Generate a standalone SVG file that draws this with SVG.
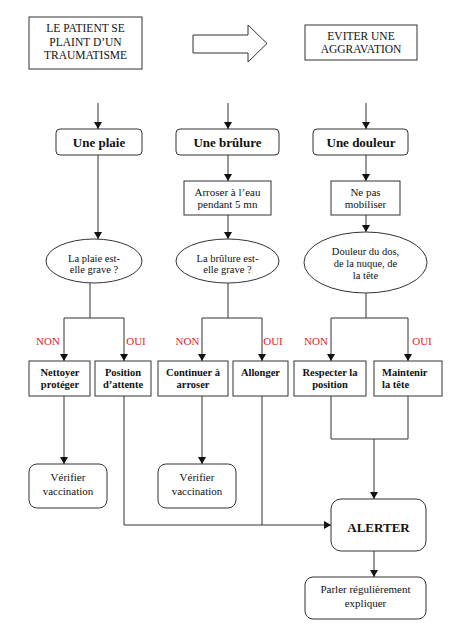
<svg xmlns="http://www.w3.org/2000/svg" width="470" height="634" viewBox="0 0 470 634">
<style>
.b{fill:#fff;stroke:#333;stroke-width:1}
.l{fill:none;stroke:#333;stroke-width:1}
.t{font-family:"Liberation Serif","Times New Roman",serif;fill:#111;text-anchor:middle}
.s{font-size:11.5px}
.m{font-size:10.5px}
.v{font-size:11px}
.h{font-size:13px;font-weight:bold}
.k{font-size:10.5px;font-weight:bold}
.r{font-family:"Liberation Serif","Times New Roman",serif;font-size:11px;fill:#e8231f;text-anchor:middle}
</style>
<defs>
<marker id="ar" markerUnits="userSpaceOnUse" markerWidth="8" markerHeight="9" refX="7" refY="4" orient="auto">
<path d="M0,0 L7,4 L0,8 Z" fill="#111"/>
</marker>
</defs>
<g id="connectors">
<polygon class="b" points="193,35 248,35 248,25 267,43.5 248,62 248,53 193,53"/>
<path class="l" d="M98,103 V129" marker-end="url(#ar)"/>
<path class="l" d="M228,103 V129" marker-end="url(#ar)"/>
<path class="l" d="M366,103 V129" marker-end="url(#ar)"/>
<path class="l" d="M98,155 V239" marker-end="url(#ar)"/>
<path class="l" d="M228,155 V181" marker-end="url(#ar)"/>
<path class="l" d="M228,215 V239" marker-end="url(#ar)"/>
<path class="l" d="M366,155 V181" marker-end="url(#ar)"/>
<path class="l" d="M366,215 V232" marker-end="url(#ar)"/>
<path class="l" d="M90,283 V318 M64,318 H124"/>
<path class="l" d="M64,318 V361" marker-end="url(#ar)"/>
<path class="l" d="M124,318 V361" marker-end="url(#ar)"/>
<path class="l" d="M228,283 V318 M202,318 H262"/>
<path class="l" d="M202,318 V361" marker-end="url(#ar)"/>
<path class="l" d="M262,318 V361" marker-end="url(#ar)"/>
<path class="l" d="M366,293 V318 M331,318 H408"/>
<path class="l" d="M331,318 V361" marker-end="url(#ar)"/>
<path class="l" d="M408,318 V361" marker-end="url(#ar)"/>
<path class="l" d="M64,396 V464" marker-end="url(#ar)"/>
<path class="l" d="M202,396 V464" marker-end="url(#ar)"/>
<path class="l" d="M262,396 V525"/>
<path class="l" d="M124,396 V525 H331" marker-end="url(#ar)"/>
<path class="l" d="M331,396 V439 H408 V396"/>
<path class="l" d="M374,439 V499" marker-end="url(#ar)"/>
<path class="l" d="M374,551 V577" marker-end="url(#ar)"/>
<text class="r" x="48" y="345">NON</text>
<text class="r" x="136" y="345">OUI</text>
<text class="r" x="187.5" y="345">NON</text>
<text class="r" x="273" y="345">OUI</text>
<text class="r" x="316" y="345">NON</text>
<text class="r" x="422" y="345">OUI</text>
</g>
<g id="patient">
<rect class="b" x="29" y="17" width="113" height="52"/>
<text class="t s" x="85.5" y="32">LE PATIENT SE</text>
<text class="t s" x="85.5" y="45.5">PLAINT D’UN</text>
<text class="t s" x="85.5" y="58.5">TRAUMATISME</text>
</g>
<g id="eviter">
<rect class="b" x="305" y="25" width="112" height="35"/>
<text class="t s" x="361" y="40">EVITER UNE</text>
<text class="t s" x="361" y="53">AGGRAVATION</text>
</g>
<g id="plaie">
<rect class="b" x="56" y="129" width="86" height="26" rx="4"/>
<text class="t h" x="99" y="146.5">Une plaie</text>
</g>
<g id="brulure">
<rect class="b" x="176" y="129" width="103" height="26" rx="4"/>
<text class="t h" x="227.5" y="146.5">Une brûlure</text>
</g>
<g id="douleur">
<rect class="b" x="313" y="129" width="95" height="26" rx="4"/>
<text class="t h" x="361" y="146.5">Une douleur</text>
</g>
<g id="arroser">
<rect class="b" x="184" y="181" width="87" height="34"/>
<text class="t v" x="227.5" y="196">Arroser à l’eau</text>
<text class="t v" x="227.5" y="208">pendant 5 mn</text>
</g>
<g id="nepas">
<rect class="b" x="331" y="181" width="69" height="34"/>
<text class="t v" x="365.5" y="196">Ne pas</text>
<text class="t v" x="365.5" y="208">mobiliser</text>
</g>
<g id="q-plaie">
<ellipse class="b" cx="94" cy="261" rx="48" ry="22"/>
<text class="t m" x="94" y="261.5">La plaie est-</text>
<text class="t m" x="94" y="273">elle grave ?</text>
</g>
<g id="q-brulure">
<ellipse class="b" cx="227.5" cy="261" rx="51.5" ry="22"/>
<text class="t m" x="227.5" y="261.5">La brûlure est-</text>
<text class="t m" x="227.5" y="273">elle grave ?</text>
</g>
<g id="q-douleur">
<ellipse class="b" cx="365.5" cy="262.5" rx="61.5" ry="30.5"/>
<text class="t m" x="365.5" y="254.5">Douleur du dos,</text>
<text class="t m" x="365.5" y="266.5">de la nuque, de</text>
<text class="t m" x="365.5" y="278.5">la tête</text>
</g>
<g id="nettoyer">
<rect class="b" x="29" y="361" width="61" height="35"/>
<text class="t k" x="60" y="375.5">Nettoyer</text>
<text class="t k" x="60" y="387.5">protéger</text>
</g>
<g id="position">
<rect class="b" x="95" y="361" width="56" height="35"/>
<text class="t k" x="123" y="375.5">Position</text>
<text class="t k" x="123" y="387.5">d’attente</text>
</g>
<g id="continuer">
<rect class="b" x="158" y="361" width="70" height="35"/>
<text class="t k" x="193" y="375.5">Continuer à</text>
<text class="t k" x="193" y="387.5">arroser</text>
</g>
<g id="allonger">
<rect class="b" x="233" y="361" width="55" height="35"/>
<text class="t k" x="260.5" y="375.5">Allonger</text>
</g>
<g id="respecter">
<rect class="b" x="294" y="361" width="72" height="35"/>
<text class="t k" x="330" y="375.5">Respecter la</text>
<text class="t k" x="330" y="387.5">position</text>
</g>
<g id="maintenir">
<rect class="b" x="374" y="361" width="68" height="35"/>
<text class="t k" x="382" y="375.5" style="text-anchor:start">Maintenir</text>
<text class="t k" x="382" y="387.5" style="text-anchor:start">la tête</text>
</g>
<g id="verifier1">
<rect class="b" x="29" y="464" width="78" height="44" rx="8"/>
<text class="t v" x="68" y="480.5">Vérifier</text>
<text class="t v" x="68" y="494.5">vaccination</text>
</g>
<g id="verifier2">
<rect class="b" x="158" y="464" width="78" height="44" rx="8"/>
<text class="t v" x="197" y="480.5">Vérifier</text>
<text class="t v" x="197" y="494.5">vaccination</text>
</g>
<g id="alerter">
<rect class="b" x="331" y="499" width="95" height="52" rx="10"/>
<text class="t h" x="378.5" y="531.5">ALERTER</text>
</g>
<g id="parler">
<rect class="b" x="305" y="577" width="121" height="42" rx="8"/>
<text class="t v" x="365.5" y="593">Parler régulièrement</text>
<text class="t v" x="365.5" y="607">expliquer</text>
</g>
</svg>
